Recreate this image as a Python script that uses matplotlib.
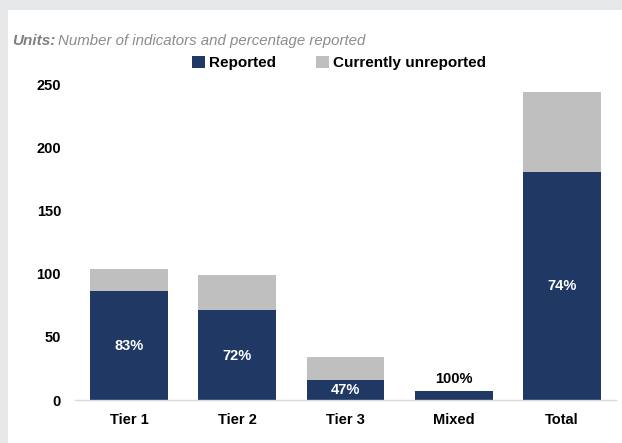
import matplotlib
matplotlib.use('Agg')
import matplotlib.pyplot as plt
from matplotlib.patches import Rectangle

plt.rcParams['font.family'] = ['Liberation Sans', 'DejaVu Sans']

# Daten
categories = ['Tier 1', 'Tier 2', 'Tier 3', 'Mixed', 'Total']
reported = [86, 71, 16, 7, 180]
unreported = [18, 28, 18, 0, 64]
pct_labels = ['83%', '72%', '47%', '100%', '74%']
yticks = [0, 50, 100, 150, 200, 250]

navy = '#1f3864'
grey = '#bfbfbf'

fig = plt.figure(figsize=(6.22, 4.43), dpi=100)
fig.patch.set_facecolor('#e6e7e9')
# weisses Feld innerhalb des grauen Rahmens
fig.patches.append(Rectangle((8 / 622, 0), 1, 1 - 10 / 443, transform=fig.transFigure,
                             facecolor='white', edgecolor='none', zorder=-5))

ax = fig.add_axes([75 / 622, 43 / 443, 541 / 622, 316 / 443])
ax.set_facecolor('none')

x = range(len(categories))
ax.bar(x, reported, width=0.72, color=navy, label='Reported', zorder=2)
ax.bar(x, unreported, width=0.72, bottom=reported, color=grey,
       label='Currently unreported', zorder=2)

# Prozent-Beschriftungen (Position innerhalb der Balken)
label_y = [43, 35, 8, 11, 90]
for i, lab in enumerate(pct_labels):
    if categories[i] == 'Mixed':
        ax.text(i, reported[i] + 4, lab, ha='center', va='bottom',
                fontsize=10.5, fontweight='bold', color='black')
    else:
        ax.text(i, label_y[i], lab, ha='center', va='center',
                fontsize=10.5, fontweight='bold', color='white')

ax.set_xlim(-0.5, 4.5)
ax.set_ylim(0, 250)
ax.set_yticks(yticks)
ax.set_yticklabels([str(t) for t in yticks], fontsize=10.5, fontweight='bold')
ax.set_xticks(list(x))
ax.set_xticklabels(categories, fontsize=10.5, fontweight='bold')
ax.tick_params(axis='both', length=0)
ax.tick_params(axis='y', pad=10)
ax.tick_params(axis='x', pad=9)

for s in ['top', 'right', 'left']:
    ax.spines[s].set_visible(False)
ax.spines['bottom'].set_color('#d9d9d9')
ax.spines['bottom'].set_linewidth(1)

# Einheiten
fig.text(12 / 622, 1 - 41 / 443, 'Units:', fontsize=11, style='italic',
         fontweight='bold', color='#808080', va='center')
fig.text(58 / 622, 1 - 41 / 443, 'Number of indicators and percentage reported',
         fontsize=10.8, style='italic', color='#8c8c8c', va='center')

leg = fig.legend(loc='center', bbox_to_anchor=(339 / 622, 1 - 63 / 443), ncol=2,
                 frameon=False, fontsize=11, handlelength=0.85, handleheight=0.85,
                 handletextpad=0.3, columnspacing=2.6)
for t in leg.get_texts():
    t.set_fontweight('bold')

fig.savefig('out.png', dpi=100)
